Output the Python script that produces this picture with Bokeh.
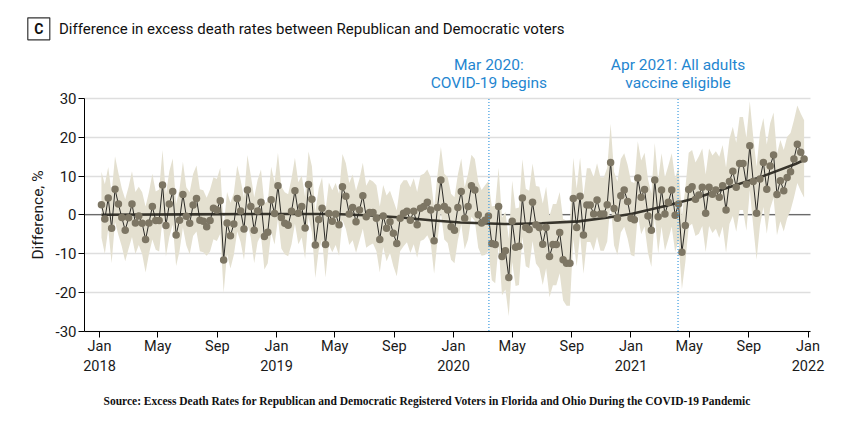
import numpy as np
import pandas as pd
from bokeh.plotting import figure
from bokeh.models import (Label, FixedTicker, Range1d, DatetimeAxis, LinearAxis, Grid)
from bokeh.embed import file_html
from bokeh.resources import INLINE

# ---------------- data ----------------
first_week = "2018-01-05"

diff = [
    2.6, -1.1, 4.3, -3.5, 6.6, 2.75, -0.7, -4.0, -0.8, 2.75, -2.1, -0.3, -2.2, -6.4, -2.1, 2.1, -1.5,
    -1.5, 7.7, -2.75, 2.75, 6.0, -5.2, -1.4, 5.2, -0.4, -2.2, 2.5, 4.2, -1.4, -1.7, -3.1, -1.5, 1.7,
    1.2, 3.6, -11.7, -2.1, -5.4, -2.4, 4.2, 1.0, -3.7, 6.4, 2.1, -4.0, 1.0, 3.2, -5.6, -4.5, 3.9, 0.3,
    7.5, -0.7, -2.2, -2.7, 0.9, 6.2, 0.4, 2.1, -3.4, 7.8, 4.0, -7.8, -1.2, 1.7, -7.7, 0.3, -1.7,
    0.2, -2.6, 7.2, 4.8, 0.2, 1.9, -1.8, 1.2, 4.9, -0.5, 0.6, 0.6, -0.9, -6.4, -0.3, -3.5, -1.8, -4.8,
    -7.4, -0.9, 0.4, 0.9, -1.4, 0.9, -2.6, 1.7, 2.1, 3.2, 1.2, -6.7, 1.9, 9.0, 2.1, 1.2, -3.1,
    -4.0, 1.9, 6.0, -0.9, 2.1, 7.5, 6.4, 0.0, -2.1, -1.4, -0.3, -7.4, -7.7, 2.1, -10.8, -9.3, -16.2,
    -1.7, -8.4, -8.1, 4.3, -3.3, -3.8, 3.2, -2.6, -3.3, -7.6, -3.3, -10.8, -7.7, -7.7, -4.6, -11.6,
    -12.5, -12.5,
    4.2, -3.3, 4.8, -5.2, 2.5, 2.5, 0.2, 3.8, 0.2, 0.2, 2.6, 13.5, 1.6, -0.9, 4.9, 6.4, 3.4, -0.9,
    -1.3, 9.5, 4.5, 6.5, -0.3, -4.0, 9.0, -0.5, 6.4, 0.2, 3.2, 6.4, -0.1, 2.75, -9.7, -2.8, 6.5,
    7.2, 4.0, 5.1, 7.1, 0.4, 7.1, 5.3, 6.4, 4.5, 7.5, 1.2, 8.6, 11.2, 7.1, 13.2, 13.2, 7.9, 17.8,
    8.6, 0.4, 9.2, 13.5, 6.6, 12.6, 15.4, 5.2, 8.8, 6.2, 9.6, 11.1, 14.4, 18.2, 16.1, 14.4,
]

half_width = [
    8.5, 9, 8, 9, 8.5, 8, 7.5, 8, 8, 8.5, 8, 7.5, 8, 8.5, 8, 8.5, 7.5, 8, 9, 8, 8.5, 8.5, 8, 8, 8.5,
    7.5, 8, 8, 8.5, 8, 8, 7.5, 8, 8,
    8, 8.5, 8.5, 8, 8.5, 8, 8.5, 8, 8, 9, 8, 8.5, 8, 8.5, 8.5, 8, 8.5, 8, 8.5, 8, 8, 8, 8.5, 8.5, 8,
    8, 8, 8.5, 8.5, 8.5, 8, 8, 8.5, 8, 8,
    8, 8, 8.5, 8.5, 8, 8.5, 8, 8, 8.5, 8, 8.5, 8, 8.5, 8.5, 8, 8.5, 8, 8.5, 8.5, 8.5, 8.5, 8, 8.5,
    8.5, 8.5, 8.5, 8.5, 8.5, 8.5, 8.5, 8.5, 8.5, 8.5, 8.5, 8.5,
    8.5, 8.5, 8.5, 8, 8.5, 8, 8, 8.5, 8.5, 9, 9, 9.5, 10, 10, 10, 10, 10, 10.5, 10, 10, 10, 10, 10,
    10, 10, 10.5, 10.5, 10.5, 10.5, 10.5, 10.5, 10.5, 10.5, 11, 11,
    10.5, 10, 10, 10, 9.5, 9.5, 9.5, 9.5, 9.5, 9.5, 9.5, 10, 9.5, 9.5, 9.5, 9.5, 9.5, 9.5, 9.5, 9.5,
    9.5, 9.5, 9.5, 9.5, 9.5, 9.5, 9.5, 9.5, 9.5, 9.5, 9.5, 9.5, 9.5, 9.5, 9.5,
    9.5, 9.5, 10, 10, 10, 10, 10, 10, 10.5, 10.5, 11, 11, 11.5, 11.5, 12, 12, 12, 11.5, 11.5, 12, 12,
    11.5, 11.5, 11, 11, 10.5, 10.5, 10.5, 10.5, 10, 10, 10, 10, 10,
]

trend_dates = [
    "2018-01-05", "2018-07-01", "2019-01-01", "2019-05-01", "2019-07-15", "2019-09-15",
    "2019-11-15", "2020-01-15", "2020-04-15", "2020-07-01", "2020-09-15", "2020-11-15",
    "2021-01-01", "2021-03-15", "2021-05-15", "2021-07-22", "2021-09-29", "2021-12-06",
    "2021-12-25",
]
trend_values = [0.0, 0.1, 0.2, 0.2, -0.2, -0.7, -1.4, -2.0, -2.4, -2.2, -1.7, -0.7, 0.2, 2.3,
                4.3, 7.1, 9.9, 13.1, 14.2]

event_dates = ["2020-03-14", "2021-04-08"]
event_line1 = ["Mar 2020:", "Apr 2021: All adults"]
event_line2 = ["COVID-19 begins", "vaccine eligible"]

tick_dates = ["2018-01-01", "2018-05-01", "2018-09-01", "2019-01-01", "2019-05-01", "2019-09-01",
              "2020-01-01", "2020-05-01", "2020-09-01", "2021-01-01", "2021-05-01", "2021-09-01",
              "2022-01-01"]
tick_labels = ["Jan\n2018", "May", "Sep", "Jan\n2019", "May", "Sep", "Jan\n2020", "May", "Sep",
               "Jan\n2021", "May", "Sep", "Jan\n2022"]
y_ticks = [-30, -20, -10, 0, 10, 20, 30]
y_tick_labels = ["-30", "-20", "-10", "0", "10", "20", "30"]
y_min, y_max = -30, 30

title_text = "Difference in excess death rates between Republican and Democratic voters"
panel_letter = "C"
source_text = ("Source: Excess Death Rates for Republican and Democratic Registered Voters "
               "in Florida and Ohio During the COVID-19 Pandemic")

# ---------------- layout (page pixels -> data) ----------------
def ms(d):
    return pd.Timestamp(d).value / 1e6

DAY = 86400000.0
PX_A, PX_B = 99.0, 807.5            # page x of Jan 2018 / Jan 2022
PPD = (PX_B - PX_A) / 1461.0
PY_TOP, PY_BOT = 98.0, 330.5        # page y of +30 / -30
UPP = (y_max - y_min) / (PY_BOT - PY_TOP)


def T(px):
    return ms("2018-01-01") + (px - PX_A) / PPD * DAY


def Y(py):
    return y_max - (py - PY_TOP) * UPP


FONT = "Roboto"
SERIF = "Liberation Serif"
BLUE = "#1f86d0"
TXT = "#1a1a1a"
W, H = 848, 445
AX_L, AX_R = 84.0, 810.0

p = figure(width=W, height=H, output_backend="svg", toolbar_location=None,
           x_axis_location=None, y_axis_location=None,
           min_border_left=0, min_border_right=0, min_border_top=0, min_border_bottom=0,
           x_range=Range1d(T(0), T(W)), y_range=Range1d(Y(H), Y(0)))
p.outline_line_color = None
p.background_fill_color = "white"
p.border_fill_color = "white"
p.grid.visible = False

p.add_layout(Grid(dimension=1, ticker=FixedTicker(ticks=y_ticks),
                  cross_bounds=(T(AX_L), T(AX_R)), grid_line_color="#dedede",
                  grid_line_width=1.6))

# data
dates = pd.date_range(first_week, periods=len(diff), freq="7D")
d = np.array(diff, dtype=float)
hw = np.array(half_width[:len(diff)], dtype=float)
lower = d - hw
upper = d + hw

p.segment(x0=[T(AX_L)], y0=[0], x1=[T(AX_R)], y1=[0], line_color="#444444", line_width=1)
p.varea(x=dates, y1=lower, y2=upper, fill_color="#e4e0d0", fill_alpha=1.0)
p.line(x=pd.to_datetime(trend_dates), y=trend_values, line_color="#38352c", line_width=2.6)
p.line(x=dates, y=d, line_color="#2b2a26", line_width=1)
p.scatter(x=dates, y=d, size=7.5, fill_color="#7d7664", line_color=None)

ev = pd.to_datetime(event_dates)
p.segment(x0=ev, y0=[y_min] * len(ev), x1=ev, y1=[y_max] * len(ev), line_color="#3b9be0",
          line_width=1.2, line_dash="1 2")

# axes (fixed inside the canvas)
xa = DatetimeAxis(fixed_location=y_min, bounds=(T(AX_L), T(AX_R)),
                  ticker=FixedTicker(ticks=[ms(t) for t in tick_dates]))
xa.major_label_overrides = {ms(t): lab for t, lab in zip(tick_dates, tick_labels)}
xa.major_label_text_font = FONT
xa.major_label_text_font_size = "14.5px"
xa.major_label_text_color = TXT
xa.axis_line_color = "black"
xa.major_tick_line_color = "black"
xa.major_tick_out = 6
xa.major_tick_in = 0
xa.minor_tick_line_color = None
xa.major_label_standoff = 1
p.add_layout(xa, "below")

ya = LinearAxis(fixed_location=T(AX_L), bounds=(y_min, y_max),
                ticker=FixedTicker(ticks=y_ticks))
ya.major_label_overrides = {t: lab for t, lab in zip(y_ticks, y_tick_labels)}
ya.major_label_text_font = FONT
ya.major_label_text_font_size = "15px"
ya.major_label_text_color = TXT
ya.axis_line_color = "black"
ya.major_tick_line_color = "black"
ya.major_tick_out = 6
ya.major_tick_in = 0
ya.minor_tick_line_color = None
ya.major_label_standoff = 2
ya.axis_label = "Difference, %"
ya.axis_label_text_font = FONT
ya.axis_label_text_font_size = "15.5px"
ya.axis_label_text_font_style = "normal"
ya.axis_label_text_color = TXT
ya.axis_label_standoff = 5
p.add_layout(ya, "left")

# header: boxed panel letter, title, event notes
p.rect(x=[T(38.3)], y=[Y(28.3)], width=22, height=22, width_units="screen",
       height_units="screen", fill_color="white", line_color="#333333", line_width=1.2)
p.add_layout(Label(x=T(38.3), y=Y(28.8), text=panel_letter, text_align="center",
                   text_baseline="middle", text_font=FONT, text_font_size="14px",
                   text_font_style="bold", text_color="#111111"))
p.add_layout(Label(x=T(58.5), y=Y(28.5), text=title_text, text_align="left",
                   text_baseline="middle", text_font=FONT, text_font_size="15px",
                   text_color="#111111"))
for ed, l1, l2 in zip(event_dates, event_line1, event_line2):
    p.add_layout(Label(x=ms(ed), y=Y(64), text=l1, text_align="center", text_baseline="middle",
                       text_color=BLUE, text_font=FONT, text_font_size="15.5px"))
    p.add_layout(Label(x=ms(ed), y=Y(82), text=l2, text_align="center", text_baseline="middle",
                       text_color=BLUE, text_font=FONT, text_font_size="15.5px"))

# footer
p.add_layout(Label(x=T(103), y=Y(400), text=source_text, text_align="left",
                   text_baseline="middle", text_font=SERIF, text_font_size="11.5px",
                   text_font_style="bold", text_color="#111111"))

open("out.html", "w").write(file_html(p, INLINE))
